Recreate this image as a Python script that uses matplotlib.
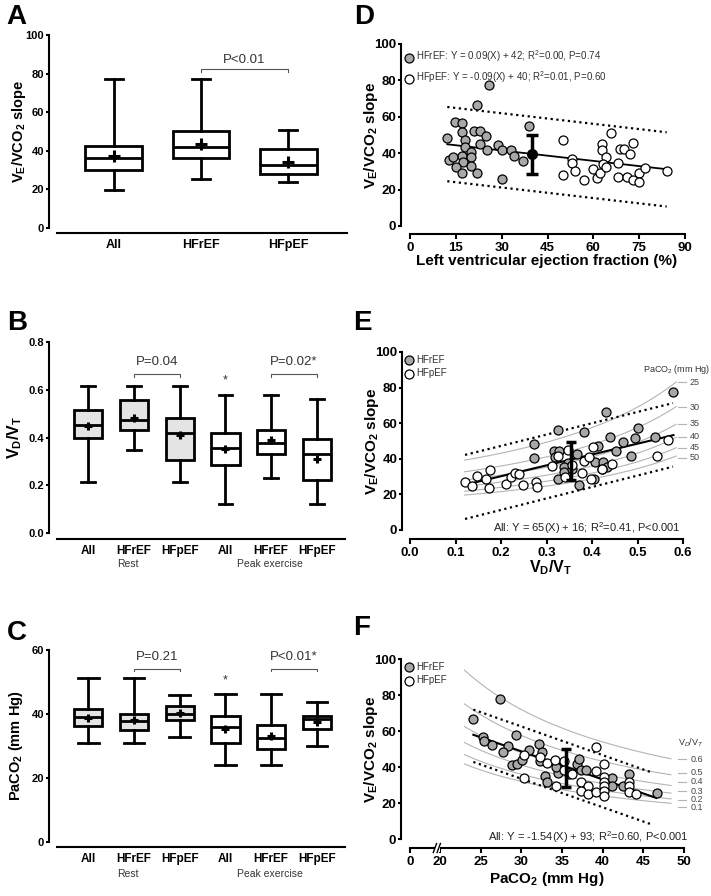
import numpy as np
import matplotlib
matplotlib.use('Agg')
import matplotlib.pyplot as plt

plt.rcParams['font.family'] = ['Liberation Sans', 'DejaVu Sans']
plt.rcParams['mathtext.fontset'] = 'custom'
plt.rcParams['mathtext.rm'] = 'Liberation Sans'
plt.rcParams['mathtext.it'] = 'Liberation Sans:italic'
plt.rcParams['mathtext.bf'] = 'Liberation Sans:bold'
plt.rcParams['axes.linewidth'] = 1.5

# ---- box plots: A (VE/VCO2 slope), B (VD/VT), C (PaCO2) ----
a_groups = ['All', 'HFrEF', 'HFpEF']
a_lo = [19.5, 25.6, 23.9]
a_q1 = [29.9, 36.3, 27.9]
a_med = [36.3, 41.9, 32.4]
a_q3 = [42.4, 50.5, 41.0]
a_hi = [77.0, 77.0, 50.7]
a_mean = [37.4, 43.4, 34.1]

bc_groups = ['All', 'HFrEF', 'HFpEF', 'All', 'HFrEF', 'HFpEF']
bc_fill = ['#e4e4e4', '#e4e4e4', '#e4e4e4', 'white', 'white', 'white']

b_lo = [0.214, 0.349, 0.214, 0.123, 0.232, 0.123]
b_q1 = [0.398, 0.430, 0.307, 0.285, 0.331, 0.220]
b_med = [0.454, 0.472, 0.420, 0.355, 0.379, 0.331]
b_q3 = [0.514, 0.555, 0.482, 0.418, 0.433, 0.394]
b_hi = [0.616, 0.616, 0.614, 0.577, 0.577, 0.563]
b_mean = [0.450, 0.480, 0.412, 0.352, 0.390, 0.311]

c_lo = [31.0, 31.0, 32.9, 24.0, 24.0, 30.1]
c_q1 = [36.3, 35.0, 38.2, 30.9, 29.1, 35.2]
c_med = [39.1, 37.9, 40.0, 35.9, 32.6, 38.3]
c_q3 = [41.7, 40.1, 42.5, 39.4, 36.7, 39.5]
c_hi = [51.4, 51.4, 45.8, 46.2, 46.2, 43.8]
c_mean = [38.9, 38.1, 40.2, 35.2, 33.2, 37.4]

# ---- D: LVEF vs VE/VCO2 slope ----
d_ref_lvef = [25.9, 21.9, 39.0, 14.8, 17.0, 17.0, 20.9, 23.0, 25.0, 12.0, 18.1, 23.0, 18.0, 19.8, 25.1,
              28.9, 30.0, 33.1, 34.0, 37.1, 12.9, 14.1, 17.0, 20.0, 17.4, 20.1, 15.1, 17.0, 22.0, 30.2]
d_ref_slope = [77.5, 66.5, 54.9, 57.3, 56.8, 51.6, 52.4, 52.4, 49.6, 48.4, 47.2, 45.1, 43.2, 40.5, 41.8,
               44.3, 41.8, 41.6, 38.4, 35.9, 36.3, 37.7, 38.5, 37.7, 35.4, 32.8, 32.2, 28.9, 29.3, 26.0]
d_pef_lvef = [50.0, 53.0, 53.0, 54.1, 50.0, 56.9, 60.0, 61.1, 62.2, 62.8, 62.8, 64.1, 63.0, 64.1,
              65.9, 68.1, 68.1, 68.7, 70.0, 72.0, 73.1, 71.1, 73.1, 74.8, 75.0, 77.0, 84.0]
d_pef_slope = [47.1, 36.6, 34.8, 30.4, 27.8, 25.3, 31.1, 26.2, 29.3, 45.1, 41.8, 37.8, 34.0, 32.2,
               51.3, 34.4, 26.7, 42.1, 42.1, 39.4, 45.4, 27.1, 25.3, 28.9, 24.3, 32.0, 30.4]
d_fit_x = [12.2, 84.0]
d_fit_y = [44.9, 31.2]
d_band_hi = [65.4, 51.5]
d_band_lo = [24.6, 10.7]
d_mean = [40.0, 39.5]
d_err = [11.0, 10.5]
d_ref_text = 'HFrEF: Y = 0.09(X) + 42; R$^2$=0.00, P=0.74'
d_pef_text = 'HFpEF: Y = -0.09(X) + 40; R$^2$=0.01, P=0.60'

# ---- E: VD/VT vs VE/VCO2 slope ----
e_ref_vdvt = [0.579, 0.431, 0.325, 0.383, 0.272, 0.272, 0.500, 0.439, 0.469, 0.495, 0.538, 0.414, 0.453,
              0.486, 0.317, 0.328, 0.319, 0.368, 0.348, 0.338, 0.338, 0.355, 0.326, 0.407, 0.425, 0.432,
              0.372, 0.405, 0.421]
e_ref_slope = [77.5, 66.5, 56.2, 54.9, 48.3, 40.7, 57.5, 52.4, 49.2, 51.5, 52.4, 47.2, 44.6,
               41.6, 44.6, 44.4, 41.2, 42.7, 37.8, 35.2, 32.4, 34.1, 28.5, 38.3, 38.3, 35.2,
               25.1, 28.9, 34.0]
e_pef_vdvt = [0.121, 0.136, 0.147, 0.167, 0.176, 0.173, 0.212, 0.223, 0.231, 0.239, 0.249, 0.277, 0.280,
              0.313, 0.326, 0.347, 0.341, 0.377, 0.382, 0.394, 0.403, 0.398, 0.423, 0.445, 0.542,
              0.566, 0.355]
e_pef_slope = [26.8, 24.7, 30.3, 28.6, 33.7, 23.4, 25.9, 29.6, 31.9, 31.3, 25.4, 27.1, 24.3,
               36.0, 41.6, 44.9, 29.6, 31.9, 38.7, 41.2, 46.8, 28.4, 34.0, 37.3, 41.6,
               50.5, 36.5]
e_fit_x = [0.121, 0.579]
e_fit_y = [25.4, 53.3]
e_band_x = [0.121, 0.578]
e_band_hi = [42.2, 71.3]
e_band_lo = [6.2, 35.6]
e_mean = [0.354, 38.5]
e_err = [10.4, 11.1]
e_paco2_levels = [25, 30, 35, 40, 45, 50]
e_label_y = [82.9, 69.0, 59.7, 52.5, 46.3, 40.7]
e_curve_x = [0.12, 0.585]

# ---- F: PaCO2 vs VE/VCO2 slope ----
f_ref_paco2 = [27.4, 24.1, 25.3, 25.4, 26.4, 28.3, 27.7, 29.3, 30.9, 32.2, 28.9, 29.5, 32.5, 32.3, 32.9,
               33.2, 34.5, 34.3, 36.8, 37.1, 37.3, 37.9, 41.1, 41.1, 43.2, 42.5, 46.7, 30.1, 35.8]
f_ref_slope = [77.6, 66.5, 56.5, 54.6, 52.2, 51.7, 48.4, 57.6, 49.4, 52.8, 41.1, 41.7, 48.4, 43.5, 35.0,
               31.8, 36.8, 40.2, 41.7, 44.3, 38.4, 38.4, 33.8, 29.2, 36.0, 29.2, 25.5, 44.0, 36.0]
f_pef_paco2 = [30.3, 30.3, 32.3, 33.2, 34.2, 34.3, 35.3, 35.3, 36.2, 37.3, 38.2, 37.3, 38.2, 39.2,
               39.2, 39.2, 40.2, 40.2, 40.2, 40.2, 40.2, 40.2, 43.2, 43.2, 43.2, 44.1]
f_pef_slope = [46.7, 33.7, 45.4, 42.1, 43.7, 29.6, 38.4, 43.1, 36.1, 31.5, 29.6, 26.9, 24.9, 26.2,
               51.0, 38.0, 41.7, 34.7, 31.5, 29.2, 26.9, 24.1, 31.8, 29.2, 25.9, 24.9]
f_fit_x = [24.1, 46.6]
f_fit_y = [57.9, 22.8]
f_band_x = [24.1, 46.2]
f_band_hi = [71.9, 36.7]
f_band_lo = [42.8, 7.8]
f_mean = [35.5, 39.0]
f_err = [10.3, 10.8]
f_vdvt_levels = [0.6, 0.5, 0.4, 0.3, 0.2, 0.1]
f_label_y = [44.4, 36.7, 31.7, 26.5, 21.9, 17.6]
f_curve_x = [23.0, 48.4]

ve_const = 863.0  # alveolar equation constant

gray = '#a8a8a8'
iso = '#b4b4b4'

fig = plt.figure(figsize=(7.11, 8.96), dpi=100)


def px_axes(left, top, right, bottom):
    W, H = 711.0, 896.0
    return fig.add_axes([left / W, 1 - bottom / H, (right - left) / W, (bottom - top) / H])


def draw_boxes(ax, lo, q1, med, q3, hi, mean, fills, width, capw, msize):
    stats = [dict(whislo=lo[i], q1=q1[i], med=med[i], q3=q3[i], whishi=hi[i], mean=mean[i])
             for i in range(len(med))]
    bp = ax.bxp(stats, positions=np.arange(len(med)), widths=width, capwidths=capw,
                patch_artist=True, showmeans=True, showfliers=False,
                boxprops=dict(linewidth=2.0, edgecolor='black'),
                whiskerprops=dict(linewidth=2.0, color='black'),
                capprops=dict(linewidth=2.0, color='black'),
                medianprops=dict(linewidth=2.0, color='black'),
                meanprops=dict(marker='+', markersize=msize, markeredgewidth=2.2,
                               markeredgecolor='black'))
    for box, fc in zip(bp['boxes'], fills):
        box.set_facecolor(fc)


def box_axes(ax, xlim, x0, out_px, yticks, ylabels):
    for s in ['top', 'right']:
        ax.spines[s].set_visible(False)
    ax.spines['bottom'].set_position(('outward', out_px * 0.72))
    ax.spines['bottom'].set_bounds(x0, xlim[1])
    ax.set_xlim(*xlim)
    ax.set_yticks(yticks, ylabels, fontweight='bold')
    ax.tick_params(axis='y', length=2.5, width=1.5, pad=1, labelsize=8)
    ax.tick_params(axis='x', length=0, pad=4, labelsize=8.5)


def bracket(ax, x0, x1, y, h, ty, text):
    ax.plot([x0, x0, x1, x1], [y - h, y, y, y - h], color='#555555', lw=0.8, clip_on=False)
    ax.text((x0 + x1) / 2, ty, text, ha='center', va='center', fontsize=9.5, color='#333333')


def scatter_axes(ax, xlim, xticks, xlabels, left_px, bottom_px):
    for s in ['top', 'right']:
        ax.spines[s].set_visible(False)
    ax.spines['left'].set_position(('outward', left_px * 0.72))
    ax.spines['bottom'].set_position(('outward', bottom_px * 0.72))
    ax.set_xlim(*xlim)
    ax.set_ylim(0, 100)
    ax.set_xticks(xticks, xlabels, fontweight='bold')
    ax.set_yticks([0, 20, 40, 60, 80, 100], ['0', '20', '40', '60', '80', '100'], fontweight='bold')
    ax.tick_params(axis='y', length=2.5, width=1.5, pad=1, labelsize=9.5)
    ax.tick_params(axis='x', length=3.5, width=1.5, pad=2, labelsize=9.5)
    ax.set_ylabel(r'V$_\mathbf{E}$/VCO$_\mathbf{2}$ slope', fontsize=11, fontweight='bold')


def points(ax, x1, y1, x2, y2, lab1, lab2):
    ax.scatter(x1, y1, s=42, c=gray, edgecolors='black', linewidths=0.9, zorder=3, label=lab1)
    ax.scatter(x2, y2, s=42, c='white', edgecolors='black', linewidths=0.9, zorder=3, label=lab2)


dotted = (0, (1, 1.6))

# ---------- A ----------
ax = px_axes(49, 35, 347, 228)
draw_boxes(ax, a_lo, a_q1, a_med, a_q3, a_hi, a_mean, ['white'] * 3, 0.655, 0.2, 8)
box_axes(ax, (-0.747, 2.678), -0.655, 5, [0, 20, 40, 60, 80, 100],
         ['0', '20', '40', '60', '80', '100'])
ax.set_ylim(0, 100)
ax.set_xticks(range(3), a_groups, fontweight='bold', fontsize=9)
ax.set_ylabel(r'V$_\mathbf{E}$/VCO$_\mathbf{2}$ slope', fontsize=10.5, fontweight='bold')
ax.yaxis.set_label_coords(-0.07, 0.5)
bracket(ax, 1, 2, 82.2, 1.5, 87.3, 'P<0.01')

# ---------- B ----------
ax = px_axes(49, 342, 345, 533)
draw_boxes(ax, b_lo, b_q1, b_med, b_q3, b_hi, b_mean, bc_fill, 0.62, 0.3, 5.5)
box_axes(ax, (-0.86, 5.617), -0.685, 6, [0, 0.2, 0.4, 0.6, 0.8],
         ['0.0', '0.2', '0.4', '0.6', '0.8'])
ax.set_ylim(0, 0.8)
ax.set_xticks(range(6), bc_groups, fontweight='bold')
ax.set_ylabel(r'V$_\mathbf{D}$/V$_\mathbf{T}$', fontsize=11.5, fontweight='bold')
ax.yaxis.set_label_coords(-0.085, 0.5)
bracket(ax, 1, 2, 0.667, 0.012, 0.715, 'P=0.04')
bracket(ax, 4, 5, 0.667, 0.012, 0.715, 'P=0.02*')
ax.text(3, 0.638, '*', ha='center', va='center', fontsize=9, color='#333333')
ax.text(0.87, -0.162, 'Rest', transform=ax.get_xaxis_transform(), ha='center', va='center',
        fontsize=7.5, color='#333333')
ax.text(3.98, -0.162, 'Peak exercise', transform=ax.get_xaxis_transform(), ha='center',
        va='center', fontsize=7.5, color='#333333')

# ---------- C ----------
ax = px_axes(49, 650, 345, 842)
draw_boxes(ax, c_lo, c_q1, c_med, c_q3, c_hi, c_mean, bc_fill, 0.62, 0.45, 5.5)
box_axes(ax, (-0.86, 5.617), -0.685, 5, [0, 20, 40, 60], ['0', '20', '40', '60'])
ax.set_ylim(0, 60)
ax.set_xticks(range(6), bc_groups, fontweight='bold')
ax.set_ylabel(r'PaCO$_\mathbf{2}$ (mm Hg)', fontsize=10.5, fontweight='bold')
ax.yaxis.set_label_coords(-0.082, 0.5)
bracket(ax, 1, 2, 54.2, 0.9, 57.7, 'P=0.21')
bracket(ax, 4, 5, 54.2, 0.9, 57.7, 'P<0.01*')
ax.text(3, 50.6, '*', ha='center', va='center', fontsize=9, color='#333333')
ax.text(0.87, -0.167, 'Rest', transform=ax.get_xaxis_transform(), ha='center', va='center',
        fontsize=7.5, color='#333333')
ax.text(3.98, -0.167, 'Peak exercise', transform=ax.get_xaxis_transform(), ha='center',
        va='center', fontsize=7.5, color='#333333')

# ---------- D ----------
ax = px_axes(410, 44, 685, 226)
d_ticks = [0, 15, 30, 45, 60, 75, 90]
scatter_axes(ax, (0, 90), d_ticks, [str(t) for t in d_ticks], 9, 8)
ax.plot(d_fit_x, d_band_hi, color='black', lw=1.6, ls=dotted)
ax.plot(d_fit_x, d_band_lo, color='black', lw=1.6, ls=dotted)
ax.plot(d_fit_x, d_fit_y, color='black', lw=1.3, zorder=2)
points(ax, d_ref_lvef, d_ref_slope, d_pef_lvef, d_pef_slope, d_ref_text, d_pef_text)
ax.errorbar([d_mean[0]], [d_mean[1]], yerr=[[d_err[0]], [d_err[1]]], fmt='o', color='black',
            ms=7, capsize=4, elinewidth=2.5, capthick=2.5, zorder=5)
ax.legend(loc='upper left', bbox_to_anchor=(-0.02, 0.975), frameon=False, fontsize=7,
          handletextpad=0.2, borderaxespad=0, borderpad=0, labelspacing=0.55,
          handlelength=1.0, labelcolor='#333333')
ax.set_xlabel('Left ventricular ejection fraction (%)', fontsize=11, fontweight='bold')
ax.xaxis.set_label_coords(0.498, -0.155)
ax.yaxis.set_label_coords(-0.108, 0.5)

# ---------- E ----------
ax = px_axes(410, 352, 683, 530)
e_ticks = [0.0, 0.1, 0.2, 0.3, 0.4, 0.5, 0.6]
scatter_axes(ax, (0, 0.6), e_ticks, ['%.1f' % t for t in e_ticks], 8, 9)
vd = np.linspace(e_curve_x[0], e_curve_x[1], 100)
for p in e_paco2_levels:
    ax.plot(vd, ve_const / (p * (1 - vd)), color=iso, lw=0.8, zorder=1)
for p, ly in zip(e_paco2_levels, e_label_y):
    ax.plot([0.589, 0.607], [ly, ly], color=iso, lw=0.8, clip_on=False)
    ax.text(0.614, ly, str(p), ha='left', va='center', fontsize=6.5, color='#444444')
ax.text(0.585, 90, r'PaCO$_2$ (mm Hg)', ha='center', va='center', fontsize=6.5, color='#333333')
ax.plot(e_band_x, e_band_hi, color='black', lw=1.6, ls=dotted)
ax.plot(e_band_x, e_band_lo, color='black', lw=1.6, ls=dotted)
ax.plot(e_fit_x, e_fit_y, color='black', lw=1.5, zorder=2)
points(ax, e_ref_vdvt, e_ref_slope, e_pef_vdvt, e_pef_slope, 'HFrEF', 'HFpEF')
ax.errorbar([e_mean[0]], [e_mean[1]], yerr=[[e_err[0]], [e_err[1]]], fmt='none', color='black',
            capsize=3.5, elinewidth=2.5, capthick=2.5, zorder=5)
ax.legend(loc='upper left', bbox_to_anchor=(-0.02, 0.985), frameon=False, fontsize=7,
          handletextpad=0.2, borderaxespad=0, borderpad=0, labelspacing=0.35,
          handlelength=1.0, labelcolor='#333333')
ax.text(0.594, 1.0, 'All: Y = 65(X) + 16; R$^2$=0.41, P<0.001', ha='right', va='center',
        fontsize=8, color='#222222')
ax.set_xlabel(r'V$_\mathbf{D}$/V$_\mathbf{T}$', fontsize=11.5, fontweight='bold')
ax.xaxis.set_label_coords(0.516, -0.16)
ax.yaxis.set_label_coords(-0.106, 0.5)

# ---------- F ----------
ax = px_axes(410, 659, 684, 839)
brk = 20.0
brk_w = 3.69


def f_fwd(x):
    x = np.asarray(x, float)
    return np.where(x < brk, x * brk_w / brk, x - brk + brk_w)


def f_inv(u):
    u = np.asarray(u, float)
    return np.where(u < brk_w, u * brk / brk_w, u + brk - brk_w)


ax.set_xscale('function', functions=(f_fwd, f_inv))
f_ticks = [0, 20, 25, 30, 35, 40, 45, 50]
scatter_axes(ax, (0, 50), f_ticks, [str(t) for t in f_ticks], 9, 9)
pc = np.linspace(f_curve_x[0], f_curve_x[1], 100)
for v in f_vdvt_levels:
    ax.plot(pc, ve_const / (pc * (1 - v)), color=iso, lw=0.8, zorder=1)
for v, ly in zip(f_vdvt_levels, f_label_y):
    ax.plot([49.3, 50.3], [ly, ly], color=iso, lw=0.8, clip_on=False)
    ax.text(50.8, ly, '%.1f' % v, ha='left', va='center', fontsize=6.5, color='#444444')
ax.text(50.9, 53.3, r'V$_D$/V$_T$', ha='center', va='center', fontsize=6.5, color='#333333')
ax.plot(f_band_x, f_band_hi, color='black', lw=1.6, ls=dotted)
ax.plot(f_band_x, f_band_lo, color='black', lw=1.6, ls=dotted)
ax.plot(f_fit_x, f_fit_y, color='black', lw=1.5, zorder=2)
points(ax, f_ref_paco2, f_ref_slope, f_pef_paco2, f_pef_slope, 'HFrEF', 'HFpEF')
ax.errorbar([f_mean[0]], [f_mean[1]], yerr=[[f_err[0]], [f_err[1]]], fmt='none', color='black',
            capsize=3.5, elinewidth=2.5, capthick=2.5, zorder=5)
ax.legend(loc='upper left', bbox_to_anchor=(-0.02, 0.985), frameon=False, fontsize=7,
          handletextpad=0.2, borderaxespad=0, borderpad=0, labelspacing=0.35,
          handlelength=1.0, labelcolor='#333333')
ax.text(50.5, 1.1, 'All: Y = -1.54(X) + 93; R$^2$=0.60, P<0.001', ha='right', va='center',
        fontsize=8, color='#222222')
ax.set_xlabel(r'PaCO$_\mathbf{2}$ (mm Hg)', fontsize=11, fontweight='bold')
ax.xaxis.set_label_coords(0.5, -0.17)
ax.yaxis.set_label_coords(-0.108, 0.5)
# axis break marks on the offset x axis
sy = -9.0 / 180
ax.add_patch(plt.Rectangle((0.092, sy - 0.02), 0.016, 0.04, transform=ax.transAxes,
                           facecolor='white', edgecolor='none', clip_on=False, zorder=6))
for bx in [0.091, 0.105]:
    ax.plot([bx - 0.006, bx + 0.006], [sy - 0.025, sy + 0.025], color='black', lw=1.0,
            transform=ax.transAxes, clip_on=False, zorder=7)

# panel letters
for letter, x, y in [('A', 16, 17), ('D', 364, 17), ('B', 17, 323), ('E', 362, 323),
                     ('C', 17, 633), ('F', 362, 628)]:
    fig.text(x / 711.0, 1 - y / 896.0, letter, ha='center', va='center', fontsize=20,
             fontweight='bold')

fig.savefig('out.png', dpi=100)
